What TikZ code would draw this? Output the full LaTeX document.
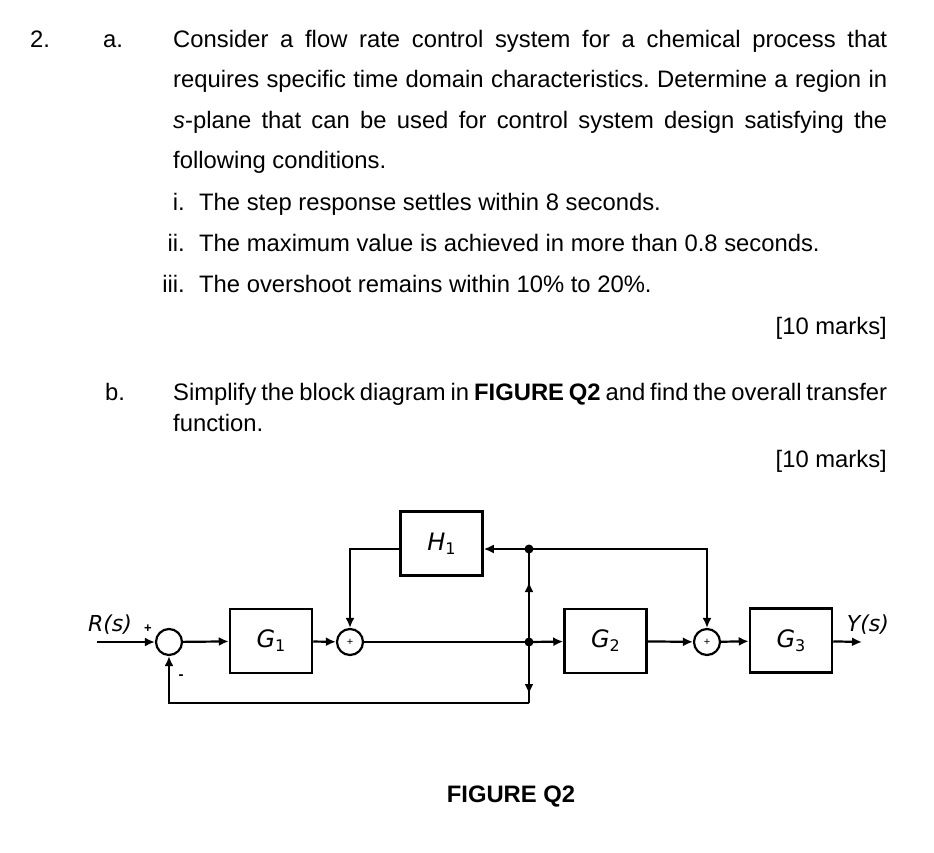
\documentclass[tikz,border=0pt]{standalone}
\usepackage{fontspec}
\setmainfont{Liberation Sans}
\newfontfamily\blockfont{DejaVu Sans}
\usetikzlibrary{arrows.meta}
\frenchspacing

\newcommand\gain[2]{\textit{#1}\raisebox{-4pt}{\fontsize{16}{16}\selectfont #2}}

\begin{document}
\begin{tikzpicture}[x=1pt,y=-1pt,
  txt/.style={anchor=base west,inner sep=0pt,font=\fontsize{23.8}{26}\selectfont},
  num/.style={anchor=base east,inner sep=0pt,font=\fontsize{23.8}{26}\selectfont},
  blk/.style={draw,line width=2.5pt,minimum width=82pt,minimum height=64pt,font=\blockfont\fontsize{24}{26}\selectfont},
  sum/.style={draw,circle,line width=2.2pt,minimum size=26pt,inner sep=0pt,font=\fontsize{11}{11}\selectfont},
  sig/.style={line width=2.2pt,-{Latex[length=10pt,width=9pt]}},
  wire/.style={line width=2.2pt},
  lbl/.style={font=\blockfont\itshape\fontsize{22}{24}\selectfont,inner sep=0pt}]
\useasboundingbox (0,0) rectangle (934,852);

% question text
\node[txt] (q) at (30,47) {2.};
\node[txt] (qa) at (103,47) {a.};
\node[txt] (la1) at (173,47) {\makebox[714pt][s]{Consider a flow rate control system for a chemical process that}};
\node[txt] (la2) at (173,87) {\makebox[714pt][s]{requires specific time domain characteristics. Determine a region in}};
\node[txt] (la3) at (173,128) {\makebox[714pt][s]{\textit{s}-plane that can be used for control system design satisfying the}};
\node[txt] (la4) at (173,168) {following conditions.};
\node[num] (ni) at (185,210) {i.};
\node[txt] (ci) at (199,210) {The step response settles within 8 seconds.};
\node[num] (nii) at (185,251) {ii.};
\node[txt] (cii) at (199,251) {The maximum value is achieved in more than 0.8 seconds.};
\node[num] (niii) at (185,292) {iii.};
\node[txt] (ciii) at (199,292) {The overshoot remains within 10\% to 20\%.};
\node[num] (ma) at (887,334) {[10 marks]};
\node[txt] (qb) at (105,400) {b.};
\node[txt] (lb1) at (173,400) {\makebox[714pt][s]{Simplify the block diagram in \textbf{FIGURE Q2} and find the overall transfer}};
\node[txt] (lb2) at (173,431) {function.};
\node[num] (mb) at (887,467) {[10 marks]};

% block diagram
\node[sum] (s1) at (169,642) {};
\node[blk] (g1) at (271,641) {\gain{G}{1}};
\node[sum] (s2) at (350,642) {+};
\node[blk] (h1) at (441.5,543.5) {\gain{H}{1}};
\node[blk] (g2) at (605.5,641) {\gain{G}{2}};
\node[sum] (s3) at (707,642) {+};
\node[blk] (g3) at (791,640.5) {\gain{G}{3}};
\coordinate (rin) at (97,642);
\coordinate (yout) at (862,642);
\coordinate (jt) at (529,549);
\coordinate (jm) at (529,642);
\coordinate (jb) at (529,703);
\node[lbl] (r) at (110,625) {R(s)};
\node[lbl] (y) at (868,625) {Y(s)};
\node[font=\bfseries\fontsize{13}{13}\selectfont,inner sep=0pt] (pl) at (148,629) {+};
\node[font=\bfseries\fontsize{15}{15}\selectfont,inner sep=0pt] (mi) at (181,677) {-};

\draw[sig] (rin) -- (s1);
\draw[sig] (s1) -- (g1);
\draw[sig] (g1) -- (s2);
\draw[wire] (s2) -- (jm);
\draw[sig] (jm) -- (g2);
\draw[sig] (g2) -- (s3);
\draw[sig] (s3) -- (g3);
\draw[sig] (g3) -- (yout);
\draw[wire] (jt) -- (jb);
\draw[sig] (jm) -- (529,582);
\draw[sig] (jm) -- (529,694);
\draw[sig] (jt) -- (jt -| h1.east);
\draw[sig] (h1.west |- jt) -| (s2.north);
\draw[sig] (jt) -| (s3.north);
\draw[sig] (jb) -| (s1.south);
\fill (jt) circle (4.5pt) (jm) circle (4.5pt);

\node[anchor=base,inner sep=0pt,font=\bfseries\fontsize{23.8}{26}\selectfont] (fig) at (511,802) {FIGURE Q2};
\end{tikzpicture}
\end{document}
